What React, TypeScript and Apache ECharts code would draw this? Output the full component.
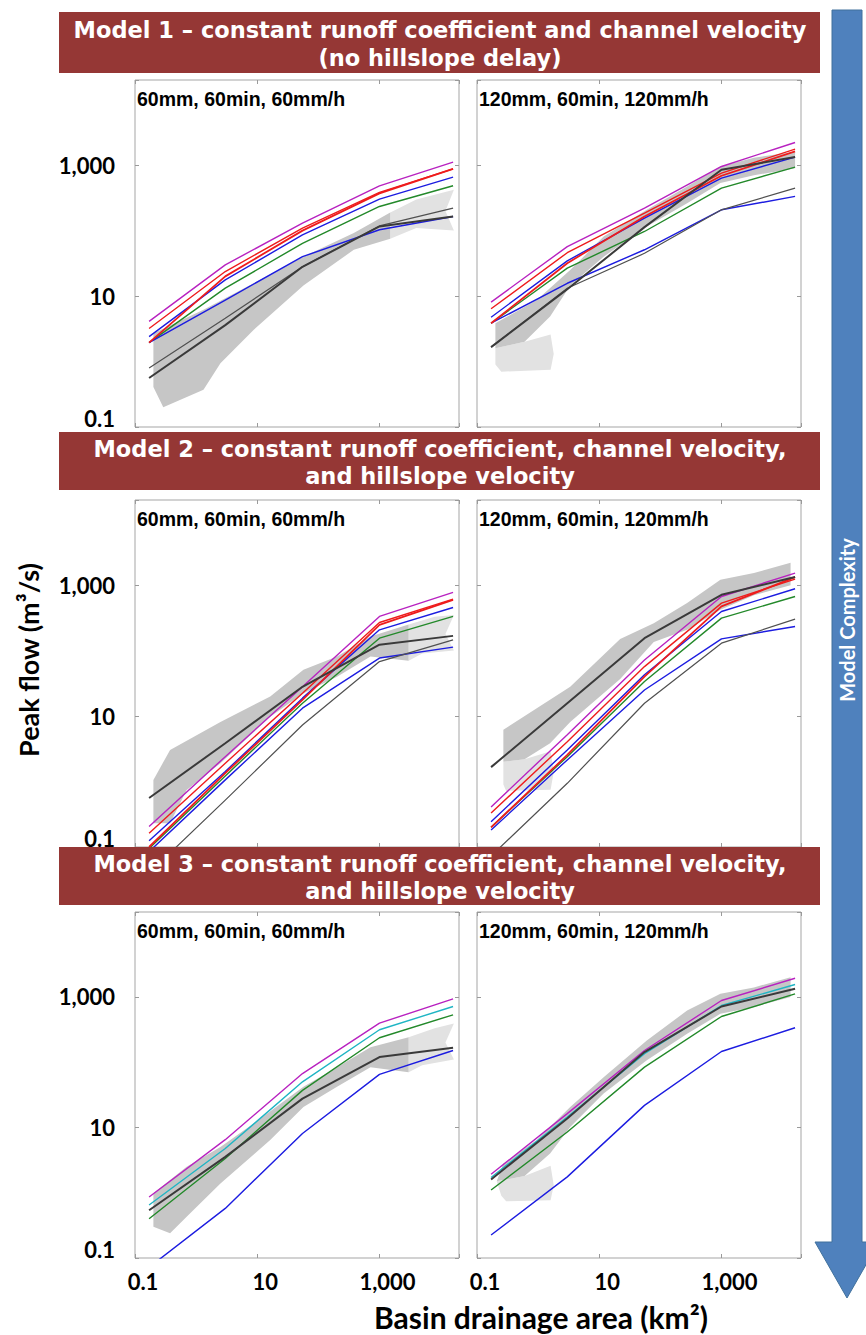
import React, { useEffect, useRef } from "react";
import * as echarts from "echarts";

// Basin drainage areas (km²) at which each model curve is evaluated
const xBreaks = [0.17, 3, 55, 1000, 16000];

// ---- Model 1, 60mm storm: peak flow (m³/s) ----
const m1aMagenta = [4.1, 30, 130, 484, 1115];
const m1aRed = [3.2, 23.7, 109, 383, 880];
const m1aRed2 = [1.95, 20, 100, 370, 880];
const m1aBlue = [2.4, 17.7, 86, 303, 658];
const m1aGreen = [1.95, 13.2, 64, 234, 484];
const m1aBlue2 = [1.95, 8.7, 40, 103, 164];
const m1aGrey = [0.8, 4.6, 28, 118, 221];
const m1aBlack = [0.56, 3.6, 28, 116, 164];

// ---- Model 1, 120mm storm ----
const m1bMagenta = [8.1, 57, 221, 955, 2220];
const m1bRed = [6.4, 46, 185, 757, 1760];
const m1bRed2 = [3.85, 31.8, 164, 689, 1620];
const m1bBlue = [4.75, 34.5, 155, 634, 1330];
const m1bGreen = [3.85, 26.7, 97, 446, 935];
const m1bBlue2 = [3.85, 15.7, 51, 208, 333];
const m1bGrey = [1.66, 13.2, 45, 208, 446];
const m1bBlack = [1.66, 12.7, 113, 851, 1330];

// ---- Model 2, 60mm storm ----
const m2aMagenta = [0.205, 2.4, 28, 333, 774];
const m2aRed = [0.162, 1.9, 22.4, 269, 612];
const m2aRed2 = [0.1, 1.34, 17.7, 248, 598];
const m2aBlue = [0.125, 1.42, 18.8, 208, 456];
const m2aGreen = [0.095, 1.22, 15.7, 155, 333];
const m2aBlue2 = [0.085, 1.06, 13.2, 77, 113];
const m2aGrey = [0.04, 0.52, 7.3, 68, 146];
const m2aBlack = [0.56, 3.85, 28, 123, 168];

// ---- Model 2, 120mm storm ----
const m2bMagenta = [0.41, 5.2, 72, 671, 1530];
const m2bRed = [0.33, 4.07, 57, 532, 1240];
const m2bRed2 = [0.2, 2.55, 40, 473, 1330];
const m2bBlue = [0.244, 3.04, 42.7, 396, 881];
const m2bGreen = [0.2, 2.4, 33.7, 314, 671];
const m2bBlue2 = [0.182, 2.14, 25, 151, 234];
const m2bGrey = [0.073, 0.94, 15.7, 130, 303];
const m2bBlack = [1.66, 15.7, 155, 713, 1330];

// ---- Model 3, 60mm storm ----
const m3aMagenta = [0.86, 6.5, 67, 396, 935];
const m3aCyan = [0.65, 4.75, 50, 314, 713];
const m3aGreen = [0.4, 3.34, 37, 237, 532];
const m3aBlack = [0.54, 3.54, 27.7, 120, 166];
const m3aBlue = [0.072, 0.575, 8.1, 65, 151];

// ---- Model 3, 120mm storm ----
const m3bMagenta = [1.92, 16.3, 151, 881, 1930];
const m3bCyan = [1.71, 14.5, 135, 739, 1548];
const m3bGreen = [1.1, 8.5, 84, 501, 1115];
const m3bBlack = [1.6, 13.7, 143, 713, 1330];
const m3bBlue = [0.225, 1.75, 21.8, 146, 337];

// Outlines of the observed-peak point clouds: [area, peak flow]
// dense core of each cloud
const coreM1a = [
  [0.2, 2.7], [1.32, 6.2], [8.7, 15.7], [57, 40], [380, 92], [1500, 190],
  [1500, 75], [380, 51], [57, 14.5], [8.7, 3.04], [2.5, 0.94], [1.32, 0.37], [0.29, 0.2], [0.2, 0.41],
];
const coreM1b = [
  [0.2, 3.85], [0.95, 8.7], [3.35, 25], [11.8, 81], [60, 208], [274, 473], [960, 955], [3400, 1300], [16000, 1600],
  [16000, 900], [3400, 700], [960, 532], [274, 263], [60, 116], [11.8, 40], [3.35, 14.5], [1.57, 4.86], [0.6, 2.0], [0.2, 1.6],
];
const coreM2a = [
  [0.2, 1.06], [0.375, 3.04], [2.5, 8.1], [16.3, 19.9], [57, 51], [202, 81], [712, 164], [3000, 250],
  [3000, 70], [712, 81], [202, 40], [57, 22.4], [16.3, 9.8], [2.5, 1.9], [0.7, 0.745], [0.375, 0.23], [0.2, 0.23],
];
const coreM2b = [
  [0.27, 6.2], [3.35, 28], [22, 151], [78, 263], [274, 532], [960, 1210], [3400, 1530], [13500, 2200],
  [13500, 1000], [3400, 700], [960, 421], [274, 208], [78, 135], [22, 37], [3.35, 8.1], [1.57, 3.85], [0.6, 2.2], [0.27, 2.0],
];
const coreM3a = [
  [0.2, 0.98], [0.7, 2.49], [2.5, 5.0], [8.7, 11.5], [57, 42], [202, 84], [712, 170], [3000, 240],
  [3000, 70], [712, 84], [202, 42], [57, 20.6], [16.3, 6.4], [2.5, 1.39], [0.7, 0.43], [0.375, 0.24], [0.2, 0.3],
];
const coreM3b = [
  [0.27, 2.8], [0.95, 6.4], [3.35, 20.6], [11.8, 59], [60, 215], [274, 619], [960, 1115], [3400, 1400], [13500, 2000],
  [13500, 1000], [3400, 700], [960, 551], [274, 273], [60, 107], [11.8, 33], [3.35, 10.2], [1.57, 4.0], [0.6, 1.8], [0.21, 1.5],
];
// thinly scattered fringes (large-basin tails, small-basin streaks)
const fringeM1a = [[1500, 190], [4000, 300], [16500, 420], [12000, 200], [16500, 100], [4000, 110], [1500, 75]];
const fringeM1b = [[0.2, 1.6], [0.6, 2.0], [1.6, 2.6], [1.8, 1.3], [1.6, 0.75], [0.25, 0.7], [0.2, 0.9]];
const fringeM2a = [[3000, 250], [8000, 330], [16500, 350], [12000, 180], [16500, 100], [5000, 90], [3000, 70]];
const fringeM2b = [[0.27, 2.0], [0.6, 2.2], [1.6, 2.9], [1.8, 1.4], [1.6, 0.75], [0.3, 0.72], [0.27, 0.9]];
const fringeM3a = [[3000, 240], [8000, 330], [16500, 390], [12000, 200], [16500, 110], [5000, 90], [3000, 70]];
const fringeM3b = [[0.21, 1.5], [0.6, 1.8], [1.6, 2.6], [1.8, 1.3], [1.6, 0.77], [0.3, 0.74], [0.25, 0.9]];

// Axis tick labels, by decade exponent
const tickLabels: Record<string, string> = { "-1": "0.1", "1": "10", "3": "1,000" };

const stormLabels = ["60mm, 60min, 60mm/h", "120mm, 60min, 120mm/h"];
const bannerLines = [
  ["Model 1 \u2013 constant runoff coefficient and channel velocity", "(no hillslope delay)"],
  ["Model 2 \u2013 constant runoff coefficient, channel velocity,", "and hillslope velocity"],
  ["Model 3 \u2013 constant runoff coefficient, channel velocity,", "and hillslope velocity"],
];

const C = {
  magenta: "#b822c0",
  red: "#ee1c1c",
  blue: "#1c1ce0",
  green: "#23892a",
  cyan: "#1fb5c4",
  grey: "#505050",
  black: "#3a3a3a",
};

type LineSpec = { color: string; width: number; data: number[] };
const L = (color: string, data: number[], width = 1.4): LineSpec => ({ color, data, width });

const panels = [
  {
    core: coreM1a,
    fringe: fringeM1a,
    lines: [L(C.green, m1aGreen), L(C.blue, m1aBlue2), L(C.grey, m1aGrey, 1.2), L(C.blue, m1aBlue), L(C.red, m1aRed2, 1.8), L(C.red, m1aRed), L(C.magenta, m1aMagenta), L(C.black, m1aBlack, 2)],
  },
  {
    core: coreM1b,
    fringe: fringeM1b,
    lines: [L(C.green, m1bGreen), L(C.blue, m1bBlue2), L(C.grey, m1bGrey, 1.2), L(C.blue, m1bBlue), L(C.red, m1bRed2, 1.8), L(C.red, m1bRed), L(C.magenta, m1bMagenta), L(C.black, m1bBlack, 2)],
  },
  {
    core: coreM2a,
    fringe: fringeM2a,
    lines: [L(C.green, m2aGreen), L(C.blue, m2aBlue2), L(C.grey, m2aGrey, 1.2), L(C.blue, m2aBlue), L(C.red, m2aRed2, 1.8), L(C.red, m2aRed), L(C.magenta, m2aMagenta), L(C.black, m2aBlack, 2)],
  },
  {
    core: coreM2b,
    fringe: fringeM2b,
    lines: [L(C.green, m2bGreen), L(C.blue, m2bBlue2), L(C.grey, m2bGrey, 1.2), L(C.blue, m2bBlue), L(C.red, m2bRed2, 1.8), L(C.red, m2bRed), L(C.magenta, m2bMagenta), L(C.black, m2bBlack, 2)],
  },
  {
    core: coreM3a,
    fringe: fringeM3a,
    lines: [L(C.blue, m3aBlue), L(C.green, m3aGreen), L(C.cyan, m3aCyan), L(C.magenta, m3aMagenta), L(C.black, m3aBlack, 2)],
  },
  {
    core: coreM3b,
    fringe: fringeM3b,
    lines: [L(C.blue, m3bBlue), L(C.green, m3bGreen), L(C.cyan, m3bCyan), L(C.magenta, m3bMagenta), L(C.black, m3bBlack, 2)],
  },
];

// Layout of the six plot areas (page pixels)
const colLeft = [135, 477];
const rowTop = [80, 500, 912];
const plotW = 324;
const plotH = 347;
const bannerTop = [12, 432, 847];
const bannerHeight = [61, 58, 58];

const labelFor = (v: number) => {
  const k = Math.log10(v);
  const r = Math.round(k);
  return Math.abs(k - r) < 0.01 ? tickLabels[String(r)] || "" : "";
};
const xFmt = (v: number) => {
  const t = labelFor(v);
  return t ? `{s|${t}}` : "";
};
const yFmt = (v: number) => {
  const t = labelFor(v);
  if (!t) return "";
  return t === "0.1" ? `{lo|${t}}` : `{s|${t}}`;
};

const labelFont = { fontFamily: "Lato", fontWeight: "bold" as const, fontSize: 22, color: "#000" };

function makeCloud(i: number, pts: number[][], fill: string, z: number) {
  return {
    type: "custom",
    xAxisIndex: i,
    yAxisIndex: i,
    silent: true,
    clip: true,
    z,
    data: [pts[0]],
    renderItem: (_params: any, api: any) => ({
      type: "polygon",
      shape: { points: pts.map((pt) => api.coord(pt)) },
      style: { fill },
    }),
  };
}

function buildOption() {
  const grids: any[] = [];
  const xAxes: any[] = [];
  const yAxes: any[] = [];
  const series: any[] = [];

  const tickStyle = { show: true, inside: true, length: 4, lineStyle: { color: "#9a9a9a", width: 1 } };
  const baseLog = { type: "log", logBase: 10, min: 0.1, max: 20000, interval: 2, splitLine: { show: false }, axisLine: { show: false } };

  panels.forEach((_p, i) => {
    const row = Math.floor(i / 2);
    const col = i % 2;
    grids.push({
      left: colLeft[col],
      top: rowTop[row],
      width: plotW,
      height: row === 2 ? plotH - 1 : plotH,
      show: true,
      borderColor: "#a5a5a5",
      borderWidth: 1,
      backgroundColor: "#ffffff",
      containLabel: false,
    });
    xAxes.push({
      ...baseLog,
      gridIndex: i,
      position: "bottom",
      axisTick: tickStyle,
      axisLabel: {
        show: row === 2,
        formatter: xFmt,
        margin: 12,
        ...labelFont,
        rich: { s: { ...labelFont, padding: [0, 0, 0, 16] } },
      },
    });
    yAxes.push({
      ...baseLog,
      gridIndex: i,
      position: "left",
      axisTick: tickStyle,
      axisLabel: {
        show: col === 0,
        formatter: yFmt,
        margin: 20,
        ...labelFont,
        rich: { s: { ...labelFont }, lo: { ...labelFont, padding: [0, 0, 18, 0] } },
      },
    });
  });
  // mirrored tick marks on the top and right edges of every panel
  panels.forEach((_p, i) => {
    xAxes.push({ ...baseLog, gridIndex: i, position: "top", axisTick: tickStyle, axisLabel: { show: false } });
    yAxes.push({ ...baseLog, gridIndex: i, position: "right", axisTick: tickStyle, axisLabel: { show: false } });
  });

  panels.forEach((p, i) => {
    series.push(makeCloud(i, p.fringe, "#e2e2e2", 1));
    series.push(makeCloud(i, p.core, "#c6c6c6", 1));
    p.lines.forEach((l) => {
      series.push({
        type: "line",
        xAxisIndex: i,
        yAxisIndex: i,
        data: xBreaks.map((x, k) => [x, l.data[k]]),
        showSymbol: false,
        symbol: "none",
        silent: true,
        clip: true,
        z: 2,
        lineStyle: { color: l.color, width: l.width },
      });
    });
  });

  const graphic: any[] = [];
  // model banners
  bannerLines.forEach((lines, r) => {
    const top = bannerTop[r];
    const h = bannerHeight[r];
    graphic.push({
      type: "rect",
      z: 100,
      shape: { x: 59, y: top, width: 761, height: h },
      style: { fill: "#953735" },
    });
    lines.forEach((t, j) => {
      graphic.push({
        type: "text",
        z: 101,
        x: 440,
        y: top + h * (j === 0 ? 0.29 : 0.75),
        style: {
          text: t,
          fill: "#ffffff",
          font: "bold 22.5px 'DejaVu Sans', Verdana, sans-serif",
          textAlign: "center",
          textVerticalAlign: "middle",
        },
      });
    });
  });
  // storm labels inside panels
  for (let r = 0; r < 3; r++) {
    for (let c = 0; c < 2; c++) {
      graphic.push({
        type: "text",
        z: 50,
        x: colLeft[c] + 2,
        y: rowTop[r] + 19,
        style: {
          text: stormLabels[c],
          fill: "#000",
          font: "bold 19.5px 'Liberation Sans', Arial, sans-serif",
          textAlign: "left",
          textVerticalAlign: "middle",
        },
      });
    }
  }
  // axis titles
  graphic.push({
    type: "text",
    z: 50,
    x: 28,
    y: 660,
    rotation: Math.PI / 2,
    style: {
      text: "Peak flow (m\u00b3/s)",
      fill: "#000",
      font: "bold 27px Lato, sans-serif",
      textAlign: "center",
      textVerticalAlign: "middle",
    },
  });
  graphic.push({
    type: "text",
    z: 50,
    x: 541,
    y: 1317,
    style: {
      text: "Basin drainage area (km\u00b2)",
      fill: "#000",
      font: "bold 30px Lato, sans-serif",
      textAlign: "center",
      textVerticalAlign: "middle",
    },
  });
  // model complexity arrow
  graphic.push({
    type: "polygon",
    z: 90,
    shape: {
      points: [
        [832, 10], [862, 10], [862, 1242], [879, 1242], [847, 1298], [815, 1242], [832, 1242],
      ],
    },
    style: { fill: "#4f81bd", stroke: "#41719c", lineWidth: 1 },
  });
  graphic.push({
    type: "text",
    z: 91,
    x: 847,
    y: 620,
    rotation: Math.PI / 2,
    style: {
      text: "Model Complexity",
      fill: "#ffffff",
      font: "bold 20px Lato, sans-serif",
      textAlign: "center",
      textVerticalAlign: "middle",
    },
  });

  return {
    animation: false,
    backgroundColor: "#ffffff",
    grid: grids,
    xAxis: xAxes,
    yAxis: yAxes,
    series,
    graphic,
  };
}

export default function App() {
  const ref = useRef<HTMLDivElement>(null);
  useEffect(() => {
    if (!ref.current) return;
    const chart = echarts.init(ref.current, undefined, { renderer: "svg" });
    chart.setOption(buildOption() as any);
    return () => chart.dispose();
  }, []);
  return (
    <div
      ref={ref}
      style={{ position: "absolute", left: 0, top: 0, width: 866, height: 1335, background: "#fff" }}
    />
  );
}
